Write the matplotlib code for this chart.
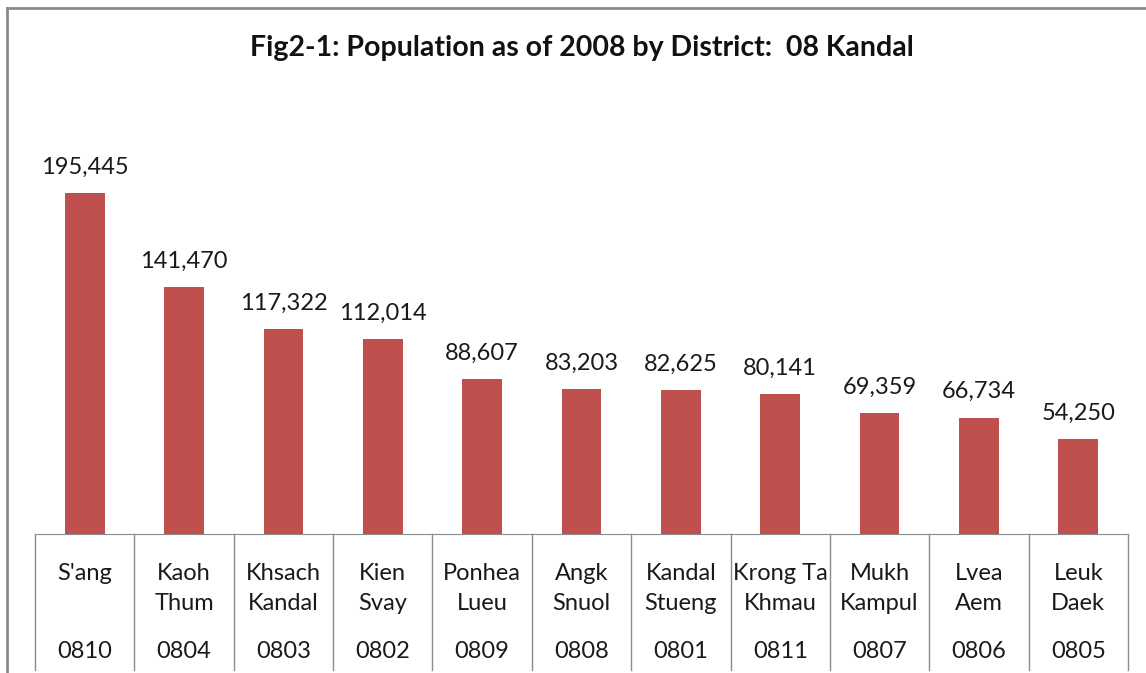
import matplotlib.pyplot as plt
from matplotlib.lines import Line2D
from matplotlib.transforms import blended_transform_factory

# datos
districts = ["S'ang", "Kaoh\nThum", "Khsach\nKandal", "Kien\nSvay", "Ponhea\nLueu",
             "Angk\nSnuol", "Kandal\nStueng", "Krong Ta\nKhmau", "Mukh\nKampul",
             "Lvea\nAem", "Leuk\nDaek"]
codes = ["0810", "0804", "0803", "0802", "0809", "0808", "0801", "0811", "0807",
         "0806", "0805"]
population = [195445, 141470, 117322, 112014, 88607, 83203, 82625, 80141, 69359,
              66734, 54250]

W, H = 1146, 673
plt.rcParams['font.family'] = ['Lato', 'DejaVu Sans']

fig = plt.figure(figsize=(W / 100, H / 100), dpi=100)
ax = fig.add_axes([35 / W, (H - 534) / H, (1128 - 35) / W, (534 - 98) / H])

x = list(range(len(population)))
bars = ax.bar(x, population, width=0.4, color='#C0504D')
ax.set_xlim(-0.5, len(population) - 0.5)
ax.set_ylim(0, 250000)

for xi, v in zip(x, population):
    ax.annotate(f"{v:,}", (xi, v), xytext=(0, 11), textcoords='offset points',
                ha='center', va='bottom', fontsize=17, color='#1a1a1a')

for s in ['top', 'right', 'left']:
    ax.spines[s].set_visible(False)
ax.spines['bottom'].set_color('#8c8c8c')
ax.set_xticks([])
ax.set_yticks([])

# tabla debajo
tr = blended_transform_factory(ax.transData, ax.transAxes)
px = 1 / (534 - 98)
for i in range(len(population) + 1):
    ax.plot([i - 0.5, i - 0.5], [0, -(670 - 534) * px], transform=tr,
            color='#8c8c8c', lw=1, clip_on=False)
for xi, name, code in zip(x, districts, codes):
    for j, line in enumerate(name.split('\n')):
        ax.text(xi, -(580 + 30 * j - 534) * px, line, transform=tr, ha='center',
                va='baseline', fontsize=17, color='#1a1a1a')
    ax.text(xi, -(658 - 534) * px, code, transform=tr, ha='center', va='baseline',
            fontsize=17, color='#1a1a1a')

fig.text(0.5 * (253 + 910) / W, 1 - 48 / H,
         "Fig2-1: Population as of 2008 by District:  08 Kandal",
         ha='center', va='center', fontsize=20.5, fontweight='bold', color='#111111')

# borde del gráfico
fig.add_artist(Line2D([7 / W, 1], [1 - 8 / H, 1 - 8 / H], color='#8a8a8a', lw=2))
fig.add_artist(Line2D([7 / W, 7 / W], [0, 1 - 8 / H], color='#8a8a8a', lw=2))

fig.savefig('out.png', dpi=100)
